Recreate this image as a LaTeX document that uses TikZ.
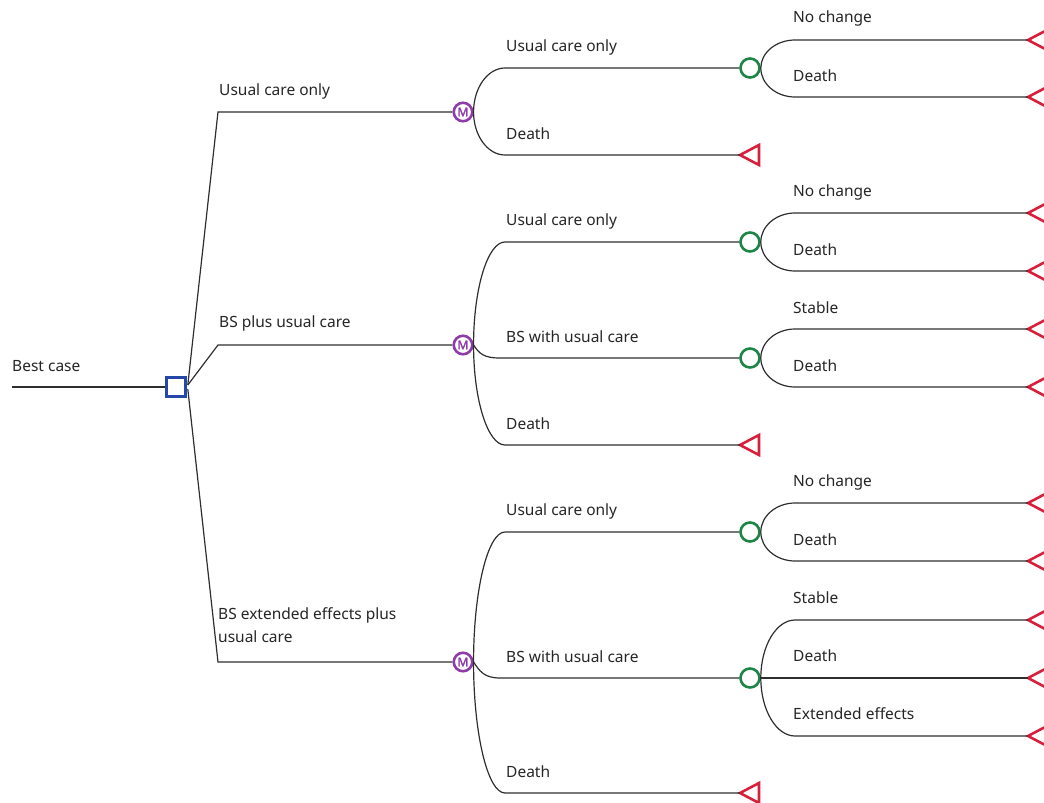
\documentclass[tikz,border=0pt]{standalone}
\usepackage{fontspec}
\setmainfont{Noto Sans}
\newfontfamily\mfont[FakeBold=2.5]{Noto Sans}
\usetikzlibrary{calc}
\definecolor{decblue}{HTML}{2448A8}
\definecolor{mpurple}{HTML}{8E3CA8}
\definecolor{cgreen}{HTML}{1E8448}
\definecolor{tred}{HTML}{D8203C}
\definecolor{lgray}{HTML}{2E2E2E}
\definecolor{tgray}{HTML}{262626}
\newcommand\termtri[2]{\coordinate (#1) at (#2); \draw[termstyle] (#1) -- ++(19,-10) -- ++(0,20) -- cycle;}
\begin{document}
\begin{tikzpicture}[x=1pt,y=-1pt,
  conn/.style={draw=lgray, line width=1.2pt},
  decision/.style={rectangle, draw=decblue, line width=2.6pt, minimum size=19pt, inner sep=0pt},
  markov/.style={circle, draw=mpurple, line width=2.6pt, minimum size=18.5pt, inner sep=0pt, text=mpurple, font=\mfont\fontsize{12}{12}\selectfont},
  chance/.style={circle, draw=cgreen, line width=2.6pt, minimum size=19pt, inner sep=0pt},
  termstyle/.style={draw=tred, line width=2.6pt, line join=miter},
  lbl/.style={anchor=west, inner sep=0pt, text=tgray, font=\fontsize{15.5}{18}\selectfont},
  lbl2/.style={anchor=north west, inner sep=0pt, text=tgray, align=left, font=\fontsize{15.5}{23}\selectfont}]
\useasboundingbox (0,0) rectangle (1044,803);
\clip (0,0) rectangle (1044,803);

% root
\coordinate (s) at (12,387);
\node[lbl] (tbest) at (12,366) {Best case};
\node[decision] (d) at (176,387) {};
\draw[conn] (s) -- (d.west);

% decision branches
\coordinate (b1) at (218,112);
\coordinate (b2) at (218,345);
\coordinate (b3) at (218,662);
\node[markov] (m1) at (463,112) {M};
\node[markov] (m2) at (463,345) {M};
\node[markov] (m3) at (463,662) {M};
\draw[conn] ($(d.east)+(1,-2)$) -- (b1) -- (m1.west);
\draw[conn] ($(d.east)+(1,-2)$) -- (b2) -- (m2.west);
\draw[conn] ($(d.east)+(1,2)$) -- (b3) -- (m3.west);
\node[lbl] (l1) at (219,91) {Usual care only};
\node[lbl] (l2) at (219,323) {BS plus usual care};
\node[lbl2] (l3) at (218,607) {BS extended effects plus\\usual care};

% chance nodes
\node[chance] (c1) at (750,68) {};
\node[chance] (c2) at (750,242) {};
\node[chance] (c3) at (750,358) {};
\node[chance] (c4) at (750,532) {};
\node[chance] (c5) at (750,678) {};

% markov 1
\coordinate (a11) at (505,68);
\coordinate (a12) at (505,155);
\termtri{t1}{740,155}
\draw[conn] (m1.east) .. controls ($(m1.east)!0.55!(m1.east|-a11)$) and ($(a11)!0.55!(m1.east|-a11)$) .. (a11) -- (c1.west);
\draw[conn] (m1.east) .. controls ($(m1.east)!0.55!(m1.east|-a12)$) and ($(a12)!0.55!(m1.east|-a12)$) .. (a12) -- (t1);
\node[lbl] at (506,47) {Usual care only};
\node[lbl] at (506,134) {Death};

% markov 2
\coordinate (a21) at (505,242);
\coordinate (a22) at (500,358);
\coordinate (a23) at (505,445);
\termtri{t2}{740,445}
\draw[conn] (m2.east) .. controls ($(m2.east)!0.55!(m2.east|-a21)$) and ($(a21)!0.55!(m2.east|-a21)$) .. (a21) -- (c2.west);
\draw[conn] (m2.east) .. controls ($(m2.east)+(6,9)$) and ($(a22)+(-16,0)$) .. (a22) -- (c3.west);
\draw[conn] (m2.east) .. controls ($(m2.east)!0.55!(m2.east|-a23)$) and ($(a23)!0.55!(m2.east|-a23)$) .. (a23) -- (t2);
\node[lbl] at (506,221) {Usual care only};
\node[lbl] at (506,337) {BS with usual care};
\node[lbl] at (506,424) {Death};

% markov 3
\coordinate (a31) at (505,532);
\coordinate (a32) at (500,678);
\coordinate (a33) at (505,793);
\termtri{t3}{740,793}
\draw[conn] (m3.east) .. controls ($(m3.east)!0.55!(m3.east|-a31)$) and ($(a31)!0.55!(m3.east|-a31)$) .. (a31) -- (c4.west);
\draw[conn] (m3.east) .. controls ($(m3.east)+(6,9)$) and ($(a32)+(-16,0)$) .. (a32) -- (c5.west);
\draw[conn] (m3.east) .. controls ($(m3.east)!0.55!(m3.east|-a33)$) and ($(a33)!0.55!(m3.east|-a33)$) .. (a33) -- (t3);
\node[lbl] at (506,511) {Usual care only};
\node[lbl] at (506,657) {BS with usual care};
\node[lbl] at (506,772) {Death};

% chance branches: c1
\coordinate (e11) at (795,40);  \termtri{u11}{1028,40}
\coordinate (e12) at (795,97);  \termtri{u12}{1028,97}
\draw[conn] (c1.east) .. controls ($(c1.east)!0.55!(c1.east|-e11)$) and ($(e11)!0.55!(c1.east|-e11)$) .. (e11) -- (u11);
\draw[conn] (c1.east) .. controls ($(c1.east)!0.55!(c1.east|-e12)$) and ($(e12)!0.55!(c1.east|-e12)$) .. (e12) -- (u12);
\node[lbl] at (793,18) {No change};
\node[lbl] at (793,76) {Death};

% c2
\coordinate (e21) at (795,213);  \termtri{u21}{1028,213}
\coordinate (e22) at (795,271);  \termtri{u22}{1028,271}
\draw[conn] (c2.east) .. controls ($(c2.east)!0.55!(c2.east|-e21)$) and ($(e21)!0.55!(c2.east|-e21)$) .. (e21) -- (u21);
\draw[conn] (c2.east) .. controls ($(c2.east)!0.55!(c2.east|-e22)$) and ($(e22)!0.55!(c2.east|-e22)$) .. (e22) -- (u22);
\node[lbl] at (793,192) {No change};
\node[lbl] at (793,250) {Death};

% c3
\coordinate (e31) at (795,329);  \termtri{u31}{1028,329}
\coordinate (e32) at (795,387);  \termtri{u32}{1028,387}
\draw[conn] (c3.east) .. controls ($(c3.east)!0.55!(c3.east|-e31)$) and ($(e31)!0.55!(c3.east|-e31)$) .. (e31) -- (u31);
\draw[conn] (c3.east) .. controls ($(c3.east)!0.55!(c3.east|-e32)$) and ($(e32)!0.55!(c3.east|-e32)$) .. (e32) -- (u32);
\node[lbl] at (793,308) {Stable};
\node[lbl] at (793,366) {Death};

% c4
\coordinate (e41) at (795,503);  \termtri{u41}{1028,503}
\coordinate (e42) at (795,561);  \termtri{u42}{1028,561}
\draw[conn] (c4.east) .. controls ($(c4.east)!0.55!(c4.east|-e41)$) and ($(e41)!0.55!(c4.east|-e41)$) .. (e41) -- (u41);
\draw[conn] (c4.east) .. controls ($(c4.east)!0.55!(c4.east|-e42)$) and ($(e42)!0.55!(c4.east|-e42)$) .. (e42) -- (u42);
\node[lbl] at (793,482) {No change};
\node[lbl] at (793,540) {Death};

% c5
\coordinate (e51) at (795,620);  \termtri{u51}{1028,620}
\termtri{u52}{1028,678}
\coordinate (e53) at (795,736);  \termtri{u53}{1028,736}
\draw[conn] (c5.east) .. controls ($(c5.east)!0.55!(c5.east|-e51)$) and ($(e51)!0.55!(c5.east|-e51)$) .. (e51) -- (u51);
\draw[conn] (c5.east) -- (u52);
\draw[conn] (c5.east) .. controls ($(c5.east)!0.55!(c5.east|-e53)$) and ($(e53)!0.55!(c5.east|-e53)$) .. (e53) -- (u53);
\node[lbl] at (793,598) {Stable};
\node[lbl] at (793,656) {Death};
\node[lbl] at (793,714) {Extended effects};
\end{tikzpicture}
\end{document}
